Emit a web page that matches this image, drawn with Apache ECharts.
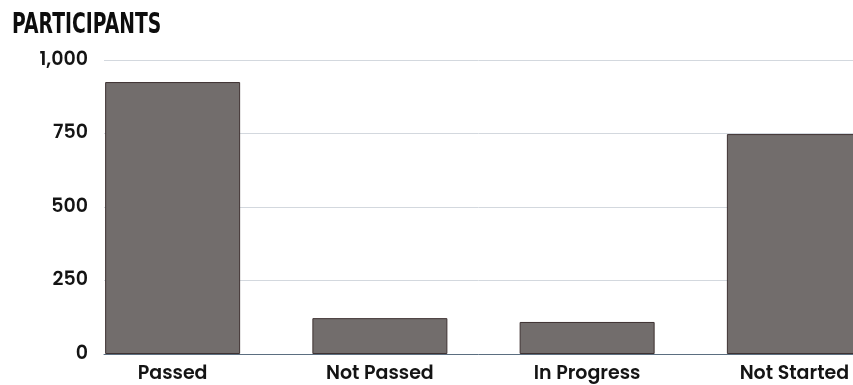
<!DOCTYPE html>
<html>
<head>
<meta charset="utf-8">
<script src="https://cdn.jsdelivr.net/npm/echarts@6/dist/echarts.min.js"></script>
<style>
  html, body { margin: 0; padding: 0; background: #fff; }
  #chart { width: 853px; height: 385px; }
</style>
</head>
<body>
<div id="chart"></div>
<script>
var categories = ['Passed', 'Not Passed', 'In Progress', 'Not Started'];
var participants = [925, 122, 109, 748];
var yTicks = [0, 250, 500, 750, 1000];
var chartTitle = 'PARTICIPANTS';

var chart = echarts.init(document.getElementById('chart'));

var labelFont = 'Poppins, "Open Sans", "Noto Sans", sans-serif';

var option = {
    animation: false,
    // heavy condensed title: bold text squeezed horizontally
    graphic: [{
        type: 'text',
        x: 12,
        y: 12,
        scaleX: 0.67,
        style: {
            text: chartTitle,
            fontFamily: '"DejaVu Sans", sans-serif',
            fontWeight: 'bold',
            fontSize: 28,
            fill: '#0d0d0d'
        }
    }],
    grid: [
        // bars + category labels (wider than the canvas, last bar is cut off)
        { left: 69, width: 829, top: 60, bottom: 31, outerBoundsMode: 'none' },
        // gridlines + value labels
        { left: 104, right: 0, top: 60, bottom: 31, outerBoundsMode: 'none' }
    ],
    xAxis: [
        {
            type: 'category',
            gridIndex: 0,
            data: categories,
            axisLine: { show: false },
            axisTick: { show: false },
            axisLabel: {
                margin: 11,
                fontSize: 19,
                fontFamily: labelFont,
                fontWeight: 600,
                color: '#141414'
            }
        },
        {
            type: 'value',
            gridIndex: 1,
            min: 0,
            max: 1,
            axisLine: { show: true, lineStyle: { color: '#5b6e80', width: 1 } },
            axisTick: { show: false },
            axisLabel: { show: false },
            splitLine: { show: false }
        }
    ],
    yAxis: [
        {
            type: 'value',
            gridIndex: 0,
            min: 0,
            max: 1000,
            interval: 250,
            show: false
        },
        {
            type: 'value',
            gridIndex: 1,
            min: yTicks[0],
            max: yTicks[yTicks.length - 1],
            interval: 250,
            axisLine: { show: false },
            axisTick: { show: false },
            axisLabel: {
                margin: 16,
                fontSize: 19,
                fontFamily: labelFont,
                fontWeight: 600,
                color: '#141414',
                formatter: function(val) { return val.toLocaleString('en-US'); }
            },
            splitLine: { lineStyle: { color: '#d3d8de', width: 1 } }
        }
    ],
    series: [
        {
            type: 'bar',
            xAxisIndex: 0,
            yAxisIndex: 0,
            barWidth: 135,
            itemStyle: {
                color: '#726d6c',
                borderColor: '#3e3232',
                borderWidth: 1
            },
            data: participants
        }
    ]
};

chart.setOption(option);
</script>
</body>
</html>
